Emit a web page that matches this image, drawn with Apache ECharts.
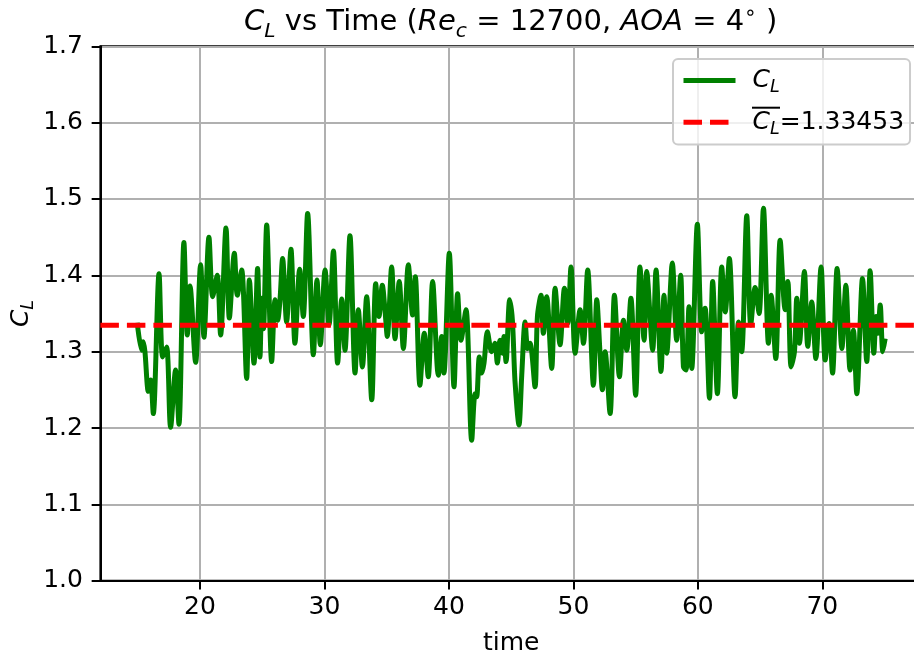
<!DOCTYPE html>
<html>
<head>
<meta charset="utf-8">
<script src="https://cdn.jsdelivr.net/npm/echarts@6/dist/echarts.min.js"></script>
<style>
  html, body { margin: 0; padding: 0; background: #fff; }
  #chart { width: 914px; height: 653px; }
</style>
</head>
<body>
<div id="chart"></div>
<script>
// Lift coefficient history: sample times and C_L values
const timeValues = [
  14.96, 15.31, 15.45, 15.58, 15.85, 16.04, 16.25, 16.71, 17.0, 17.32,
  17.64, 18.04, 18.31, 18.71, 18.98, 19.2, 19.65, 20.05, 20.32, 20.72,
  21.02, 21.39, 21.66, 22.09, 22.36, 22.76, 23.0, 23.35, 23.75, 23.97,
  24.34, 24.63,
  24.82, 24.97, 25.1, 25.36, 25.76, 26.03, 26.24, 26.43, 26.64, 26.96,
  27.31, 27.63, 28.01, 28.3, 28.65, 29.11, 29.4, 29.67, 30.05, 30.37,
  30.72, 31.06, 31.39, 31.65, 32.05, 32.46, 32.72, 33.05, 33.39, 33.8,
  34.12, 34.38, 34.65,
  34.86, 35.05, 35.4, 35.67, 36.01, 36.34, 36.74, 37.08, 37.3, 37.67,
  38.02, 38.34, 38.69, 39.15, 39.42, 39.6, 40.03, 40.41, 40.7, 40.97,
  41.37, 41.83, 42.1, 42.23, 42.44, 42.63, 42.82, 43.09, 43.43, 43.7,
  43.89, 44.1, 44.32, 44.42, 44.59,
  44.88, 45.1, 45.31, 45.63, 45.85, 46.12, 46.33, 46.52, 46.92, 47.11,
  47.4, 47.59, 47.86, 48.26, 48.53, 48.93, 49.28, 49.55, 49.81, 50.14,
  50.54, 50.81, 51.15, 51.61, 51.88, 52.14, 52.33, 52.55, 52.95, 53.3,
  53.7, 54.02, 54.29,
  54.62, 55.0, 55.35, 55.68, 55.89, 56.37, 56.64, 57.04, 57.28, 57.5,
  57.95, 58.3, 58.62, 58.84, 59.05, 59.29, 59.51, 59.96, 60.31, 60.58,
  60.93, 61.19, 61.57, 61.92, 62.2, 62.53, 62.99, 63.26, 63.52, 63.93,
  64.25, 64.6,
  64.92, 65.27, 65.67, 65.89, 66.26, 66.61, 67.01, 67.23, 67.49, 67.76,
  67.95, 68.16, 68.56, 68.83, 69.15, 69.48, 69.9, 70.23, 70.55, 70.82,
  71.19, 71.57, 71.89, 72.23, 72.5, 72.77, 73.23, 73.57, 73.84, 74.14,
  74.32, 74.46, 74.65, 74.86, 75.05
];
const clValues = [
  1.338, 1.302, 1.313, 1.300, 1.248, 1.263, 1.219, 1.402, 1.293, 1.306,
  1.201, 1.276, 1.205, 1.443, 1.322, 1.386, 1.286, 1.414, 1.319, 1.450,
  1.372, 1.400, 1.322, 1.462, 1.344, 1.429, 1.374, 1.407, 1.265, 1.394,
  1.285, 1.409,
  1.293, 1.37, 1.33, 1.466, 1.287, 1.368, 1.341, 1.368, 1.422, 1.339,
  1.434, 1.311, 1.408, 1.346, 1.481, 1.296, 1.394, 1.309, 1.407, 1.335,
  1.432, 1.285, 1.369, 1.302, 1.452, 1.272, 1.355, 1.280, 1.372, 1.237,
  1.389, 1.346, 1.387,
  1.355, 1.320, 1.411, 1.317, 1.392, 1.304, 1.414, 1.348, 1.398, 1.256,
  1.324, 1.267, 1.392, 1.269, 1.320, 1.272, 1.429, 1.254, 1.376, 1.315,
  1.355, 1.184, 1.245, 1.241, 1.293, 1.272, 1.285, 1.326, 1.300, 1.311,
  1.285, 1.315, 1.298, 1.320, 1.287,
  1.368, 1.341, 1.261, 1.204, 1.269, 1.339, 1.304, 1.311, 1.254, 1.346,
  1.374, 1.324, 1.372, 1.278, 1.383, 1.309, 1.383, 1.337, 1.411, 1.298,
  1.355, 1.311, 1.407, 1.256, 1.368, 1.298, 1.250, 1.300, 1.219, 1.374,
  1.267, 1.341, 1.302,
  1.37, 1.243, 1.411, 1.315, 1.405, 1.302, 1.407, 1.274, 1.374, 1.298,
  1.416, 1.315, 1.400, 1.280, 1.276, 1.359, 1.278, 1.467, 1.326, 1.357,
  1.239, 1.392, 1.245, 1.411, 1.352, 1.422, 1.241, 1.339, 1.300, 1.478,
  1.335, 1.384,
  1.350, 1.488, 1.311, 1.374, 1.291, 1.446, 1.355, 1.392, 1.280, 1.300,
  1.370, 1.311, 1.405, 1.307, 1.365, 1.291, 1.411, 1.289, 1.337, 1.272,
  1.409, 1.304, 1.387, 1.276, 1.328, 1.245, 1.396, 1.287, 1.406, 1.298,
  1.346, 1.324, 1.361, 1.300, 1.317
];
const clMean = 1.33453;
const xRange = [12, 78];
const yRange = [1.0, 1.7];
const xTickValues = [20, 30, 40, 50, 60, 70];
const yTickStep = 0.1;

const FONT = "'DejaVu Sans'";
// rich-text styles for the mathtext-like labels (regular, italic, subscript, superscript)
const mathRich = (size) => ({
  r: { fontSize: size, fontFamily: FONT, fontWeight: 'normal', color: '#000', lineHeight: size * 1.3 },
  i: { fontSize: size, fontFamily: FONT, fontWeight: 'normal', fontStyle: 'italic', color: '#000', lineHeight: size * 1.3 },
  s: { fontSize: size * 0.7, fontFamily: FONT, fontWeight: 'normal', fontStyle: 'italic', color: '#000',
       lineHeight: size * 0.7, verticalAlign: 'bottom' },
  sup: { fontSize: size * 0.7, fontFamily: FONT, fontWeight: 'normal', color: '#000',
         lineHeight: size * 0.7, verticalAlign: 'top' }
});

const clData = timeValues.map((t, k) => [t, clValues[k]]);
const meanData = xRange.map(t => [t, clMean]);

const chart = echarts.init(document.getElementById('chart'), null, { renderer: 'canvas' });
chart.setOption({
  animation: false,
  backgroundColor: '#fff',
  title: {
    text: '{i|C}{s|L}{r| vs Time (}{i|Re}{s|c}{r| = 12700, }{i|AOA}{r| = 4}{sup|∘}{r| )}',
    left: 510.7,
    textAlign: 'center',
    top: 4,
    padding: 0,
    textStyle: { fontWeight: 'normal', fontSize: 29, fontFamily: FONT, rich: mathRich(29) }
  },
  grid: {
    left: 100.4, right: -7.9, top: 46.3, bottom: 72.3,
    outerBoundsMode: 'none',
    show: true, borderColor: '#000', borderWidth: 2, backgroundColor: 'transparent'
  },
  legend: {
    orient: 'vertical',
    left: 673, top: 59,
    padding: [9, 6, 6, 8],
    itemWidth: 52, itemHeight: 20, itemGap: 13,
    backgroundColor: 'rgba(255,255,255,0.8)',
    borderColor: '#cccccc', borderWidth: 2, borderRadius: 5,
    lineStyle: { width: 5 },
    itemStyle: { color: 'rgba(0,0,0,0)', borderWidth: 0 },
    data: ['CL', 'CLmean'],
    formatter: (name) => name === 'CL' ? '{i|C}{s|L}' : '{i|C}{s|L}{r|=' + clMean.toFixed(5) + '}',
    textStyle: { padding: [0, 0, 0, 12], rich: mathRich(25) }
  },
  xAxis: {
    type: 'value',
    min: xRange[0], max: xRange[1],
    name: 'time', nameLocation: 'middle', nameGap: 50,
    nameTextStyle: { fontSize: 25, fontFamily: FONT, color: '#000' },
    axisLine: { show: true, onZero: false, lineStyle: { color: '#000', width: 2 } },
    axisTick: { show: true, length: 8.75, customValues: xTickValues, lineStyle: { color: '#000', width: 2 } },
    axisLabel: { customValues: xTickValues, fontSize: 25, fontFamily: FONT, color: '#000', margin: 14 },
    splitLine: { show: true, lineStyle: { color: '#b0b0b0', width: 2 } }
  },
  yAxis: {
    type: 'value',
    min: yRange[0], max: yRange[1], interval: yTickStep,
    name: '{i|C}{s|L}', nameLocation: 'middle', nameGap: 63, nameRotate: 90,
    nameMoveOverlap: false,
    nameTextStyle: { rich: mathRich(25) },
    axisLine: { show: true, lineStyle: { color: '#000', width: 2 } },
    axisTick: { show: true, length: 8.75, lineStyle: { color: '#000', width: 2 } },
    axisLabel: { fontSize: 25, fontFamily: FONT, color: '#000', margin: 17.5,
                 formatter: (v) => v.toFixed(1) },
    splitLine: { show: true, lineStyle: { color: '#b0b0b0', width: 2 } }
  },
  series: [
    {
      name: 'CL', type: 'line', data: clData,
      showSymbol: false, symbol: 'none', smooth: 0.3,
      lineStyle: { color: '#008000', width: 5, join: 'round' },
      itemStyle: { color: '#008000' },
      z: 2
    },
    {
      name: 'CLmean', type: 'line', data: meanData,
      showSymbol: false, symbol: 'none',
      lineStyle: { color: '#ff0000', width: 5, type: [18.5, 8] },
      itemStyle: { color: '#ff0000' },
      z: 3
    }
  ],
  graphic: [
    // bar over the mean symbol in the legend
    { type: 'line', shape: { x1: 752, y1: 107.7, x2: 780, y2: 107.7 },
      style: { stroke: '#000', lineWidth: 2 }, z: 100 }
  ]
});
</script>
</body>
</html>
